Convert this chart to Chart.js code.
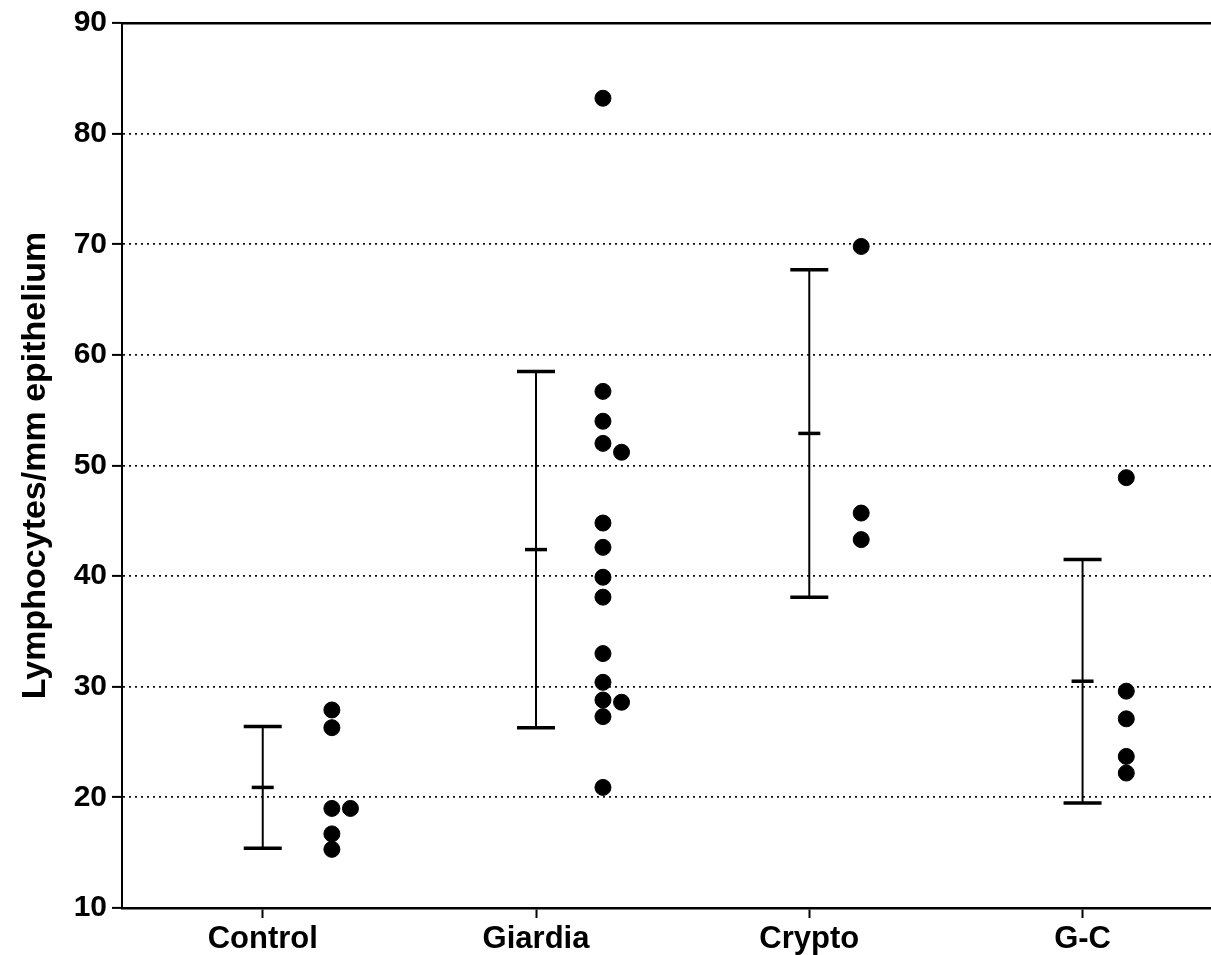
<!DOCTYPE html>
<html>
<head>
<meta charset="utf-8">
<script src="https://cdn.jsdelivr.net/npm/chart.js@4"></script>
<style>
  html, body { margin: 0; padding: 0; background: #fff; overflow: hidden; }
  #wrap { width: 1211px; height: 955px; }
  canvas { display: block; }
</style>
</head>
<body>
<div id="wrap"><canvas id="lymphChart" width="1211" height="955"></canvas></div>
<script>
// groups and summary stats (mean +/- SD)
var groups = ['Control', 'Giardia', 'Crypto', 'G-C'];
var means = [20.9, 42.4, 52.9, 30.5];
var sds = [5.5, 16.1, 14.8, 11.0];

// individual animals
var controlVals = [27.9, 26.3, 19.0, 19.0, 16.7, 15.3];
var giardiaVals = [83.2, 56.7, 54.0, 52.0, 51.2, 44.8, 42.6, 39.9, 38.1, 33.0, 30.4, 28.8, 28.6, 27.3, 20.9];
var cryptoVals = [69.8, 45.7, 43.3];
var gcVals = [48.9, 29.6, 27.1, 23.7, 22.2];

var yTicks = [10, 20, 30, 40, 50, 60, 70, 80, 90];

// layout only: where the dot column sits right of each error bar,
// and which dots were pushed aside because they overlap
var dotShift = [0.253, 0.245, 0.19, 0.16];
var nudge = 0.068;
var nudged = [[3], [4, 12], [], []];

var FONT = '"Liberation Sans", Arial, Helvetica, sans-serif';
var INK = '#000';

var allVals = [controlVals, giardiaVals, cryptoVals, gcVals];
var dots = [];
allVals.forEach(function (vals, g) {
  vals.forEach(function (v, k) {
    var x = g + dotShift[g] + (nudged[g].indexOf(k) >= 0 ? nudge : 0);
    dots.push({ x: x, y: v });
  });
});

var datasets = [];

// vertical SD lines
groups.forEach(function (name, i) {
  datasets.push({
    type: 'line',
    data: [{ x: i, y: means[i] - sds[i] }, { x: i, y: means[i] + sds[i] }],
    borderColor: INK,
    borderWidth: 2,
    pointRadius: 0,
    fill: false
  });
});

// SD caps
datasets.push({
  type: 'scatter',
  data: groups.map(function (n, i) { return { x: i, y: means[i] + sds[i] }; })
    .concat(groups.map(function (n, i) { return { x: i, y: means[i] - sds[i] }; })),
  pointStyle: 'line',
  pointRadius: 19,
  borderColor: INK,
  borderWidth: 3.5
});

// means
datasets.push({
  type: 'scatter',
  data: groups.map(function (n, i) { return { x: i, y: means[i] }; }),
  pointStyle: 'line',
  pointRadius: 11,
  borderColor: INK,
  borderWidth: 3.5
});

// points
datasets.push({
  type: 'scatter',
  data: dots,
  pointStyle: 'circle',
  pointRadius: 8,
  backgroundColor: INK,
  borderColor: INK,
  borderWidth: 1
});

function noSidePadding(axis) {
  axis.paddingLeft = 0;
  axis.paddingRight = 0;
}

var ctx = document.getElementById('lymphChart').getContext('2d');
var lymphChart = new Chart(ctx, {
  type: 'scatter',
  data: { datasets: datasets },
  options: {
    responsive: false,
    animation: false,
    events: [],
    layout: { autoPadding: false, padding: { top: 22, left: 0, right: 0, bottom: 0 } },
    plugins: {
      legend: { display: false },
      tooltip: { enabled: false }
    },
    scales: {
      x: {
        type: 'linear',
        position: 'bottom',
        min: -0.515,
        max: 3.47,
        afterBuildTicks: function (axis) {
          axis.ticks = groups.map(function (n, i) { return { value: i }; });
        },
        afterFit: function (axis) { axis.height = 47; noSidePadding(axis); },
        ticks: {
          autoSkip: false,
          maxRotation: 0,
          padding: 3,
          color: INK,
          font: { family: FONT, size: 31, weight: 'bold' },
          callback: function (v) { return groups[v]; }
        },
        grid: {
          drawOnChartArea: false,
          tickLength: 10,
          tickColor: INK,
          tickWidth: 2
        },
        border: { display: true, color: INK, width: 2.5 }
      },
      xTop: {
        type: 'linear',
        position: 'top',
        min: -0.515,
        max: 3.47,
        afterFit: function (axis) { axis.height = 0; noSidePadding(axis); },
        ticks: { display: false },
        grid: { display: false, drawTicks: false },
        border: { display: true, color: INK, width: 2.5 }
      },
      y: {
        min: 10,
        max: 90,
        afterBuildTicks: function (axis) {
          axis.ticks = yTicks.map(function (v) { return { value: v }; });
        },
        afterFit: function (axis) { axis.width = 122; },
        ticks: {
          padding: 5,
          color: INK,
          font: { family: FONT, size: 30, weight: 'bold' }
        },
        grid: {
          color: '#111',
          lineWidth: 1.8,
          tickLength: 10,
          tickColor: INK,
          tickWidth: 2,
          tickBorderDash: []
        },
        border: { display: true, color: INK, width: 2, dash: [2, 4] },
        title: {
          display: true,
          text: 'Lymphocytes/mm epithelium',
          color: INK,
          padding: { top: 15, bottom: 0 },
          font: { family: FONT, size: 34, weight: 'bold' }
        }
      }
    }
  }
});
</script>
</body>
</html>
